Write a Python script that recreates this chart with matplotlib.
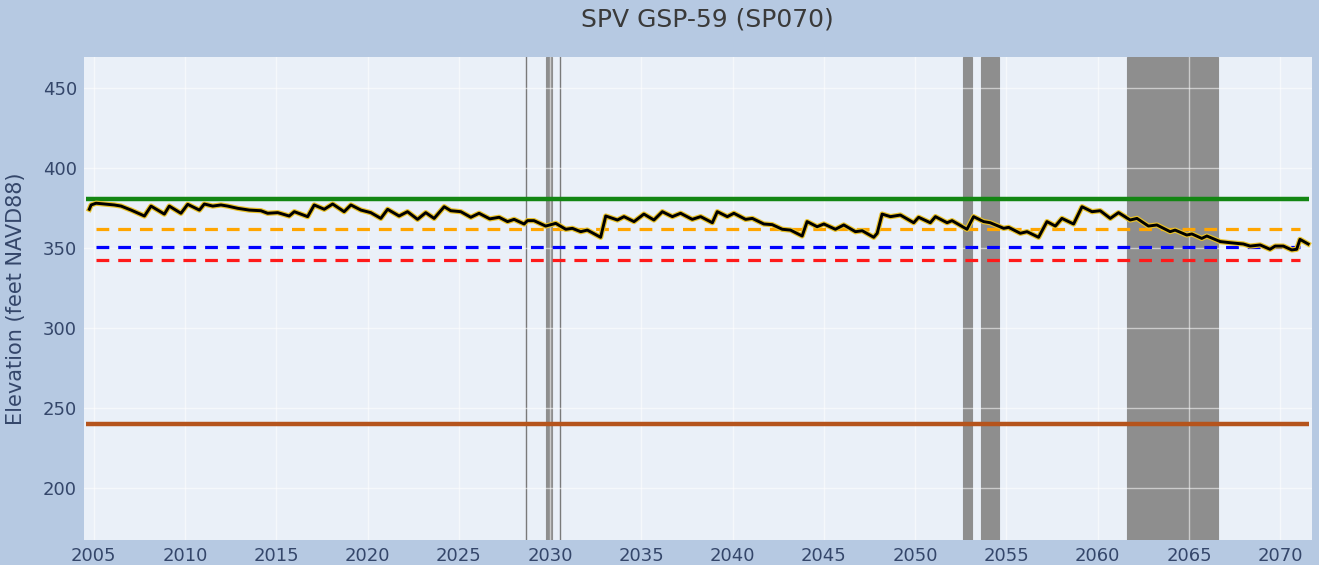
import matplotlib
matplotlib.use("Agg")
import matplotlib.pyplot as plt

# simulated groundwater elevation (decimal year, feet NAVD88)
years = [
    2004.76, 2004.86, 2005.13, 2006.13, 2006.50, 2007.05, 2007.78, 2008.14, 2008.87, 2009.14,
    2009.78, 2010.15, 2010.79, 2011.06, 2011.52, 2011.97, 2012.34, 2012.89, 2013.52, 2014.16,
    2014.53, 2015.08, 2015.71, 2015.99, 2016.72, 2017.08, 2017.63, 2018.09, 2018.72, 2019.09,
    2019.64, 2020.18, 2020.73, 2021.10, 2021.73, 2022.19, 2022.74, 2023.19, 2023.65, 2024.20,
    2024.56, 2025.11, 2025.66, 2026.11, 2026.70, 2027.21, 2027.67, 2028.03, 2028.58, 2028.76,
    2029.12, 2029.76, 2030.31, 2030.86, 2031.22, 2031.68, 2032.04, 2032.77, 2033.05, 2033.69,
    2034.05, 2034.60, 2035.14, 2035.69, 2036.15, 2036.70, 2037.15, 2037.79, 2038.25, 2038.89,
    2039.16, 2039.71, 2040.07, 2040.71, 2041.08, 2041.71, 2042.17, 2042.72, 2043.17, 2043.81,
    2044.08, 2044.63, 2045.00, 2045.63, 2046.09, 2046.73, 2047.10, 2047.73, 2047.92, 2048.19,
    2048.65, 2049.19, 2049.92, 2050.19, 2050.83, 2051.11, 2051.75, 2052.02, 2052.84, 2053.20,
    2053.75, 2054.11, 2054.85, 2055.12, 2055.76, 2056.13, 2056.76, 2057.22, 2057.68, 2058.04,
    2058.68, 2059.14, 2059.69, 2060.14, 2060.69, 2061.14, 2061.78, 2062.15, 2062.78, 2063.24,
    2063.97, 2064.24, 2064.88, 2065.16, 2065.70, 2065.98, 2066.71, 2067.26, 2067.98, 2068.35,
    2068.90, 2069.44, 2069.72, 2070.17, 2070.63, 2070.90, 2071.08, 2071.53,
]
elevation = [
    374.2, 376.9, 378.0, 376.9, 376.2, 373.7, 370.0, 376.2, 371.2, 376.2,
    371.7, 377.3, 373.7, 377.5, 376.2, 376.9, 376.2, 374.8, 373.7, 373.3,
    371.7, 372.1, 370.0, 372.7, 369.6, 376.9, 374.2, 377.5, 372.7, 376.9,
    373.7, 372.1, 368.5, 374.2, 370.0, 372.7, 367.9, 372.1, 368.5, 375.8,
    373.3, 372.7, 369.2, 371.7, 368.2, 369.2, 366.5, 367.9, 365.0, 367.1,
    367.1, 363.7, 365.4, 361.7, 362.3, 360.2, 361.2, 356.7, 370.0, 367.5,
    369.6, 366.5, 371.2, 367.5, 372.7, 369.6, 371.7, 367.9, 369.6, 365.8,
    372.7, 369.6, 371.7, 367.9, 368.5, 365.0, 364.6, 361.7, 361.2, 357.5,
    366.5, 363.3, 365.0, 361.7, 364.4, 360.2, 360.8, 356.7, 359.2, 371.2,
    369.6, 370.6, 365.8, 369.2, 365.8, 369.6, 365.8, 367.1, 361.7, 369.6,
    366.5, 365.8, 362.3, 362.9, 359.2, 360.2, 356.7, 366.5, 363.7, 368.5,
    365.0, 375.8, 372.7, 373.3, 368.5, 372.1, 367.5, 368.5, 363.7, 364.4,
    360.2, 361.2, 358.1, 358.8, 356.0, 357.5, 354.0, 353.3, 352.5, 351.2,
    351.9, 349.2, 351.2, 351.2, 348.8, 349.2, 355.4, 352.5,
]

# reference levels
max_level = 380.6          # green
threshold_1 = 361.9        # orange dashed
threshold_2 = 350.6        # blue dashed
threshold_3 = 342.5        # red dashed
bottom_level = 240.0       # brown

# shaded periods (start, end)
thin_marks = [2028.67, 2030.53]
shaded = [(2029.77, 2030.09), (2052.64, 2053.13), (2053.63, 2054.61), (2061.62, 2066.60)]

x_ticks = list(range(2005, 2071, 5))
y_ticks = [200, 250, 300, 350, 400, 450]

fig = plt.figure(figsize=(13.19, 5.65), dpi=100, facecolor="#b6c9e2")
ax = fig.add_axes([0.0637, 0.0442, 0.931, 0.855])
ax.set_facecolor("#eaf0f8")

for x0, x1 in shaded:
    ax.axvspan(x0, x1, color="#8e8e8e", lw=0.8, zorder=1)
for x in thin_marks:
    ax.axvline(x, color="#7a7a7a", lw=1.0, zorder=1)

ax.set_axisbelow(False)
ax.grid(True, color="white", lw=1.0, alpha=0.55, zorder=1.5)

ax.hlines(max_level, 2004.6, 2071.6, color="#138613", lw=3.2, zorder=3)
ax.hlines(bottom_level, 2004.6, 2071.6, color="#b5541c", lw=3.2, zorder=3)
for lvl, col in [(threshold_1, "#ffa500"), (threshold_2, "#0000ff"), (threshold_3, "#ff1a1a")]:
    ax.hlines(lvl, 2005.1, 2071.1, color=col, lw=2.3, linestyles=(0, (4.0, 2.8)), zorder=3)

ax.plot(years, elevation, color="#e9c22a", lw=3.8, zorder=4, solid_joinstyle="round")
ax.plot(years, elevation, color="black", lw=2.1, zorder=5, solid_joinstyle="round")

ax.set_xlim(2004.47, 2071.74)
ax.set_ylim(167.5, 469.4)
ax.set_xticks(x_ticks)
ax.set_yticks(y_ticks)
ax.tick_params(length=0, labelsize=13, labelcolor="#34466a", pad=5)
for s in ax.spines.values():
    s.set_visible(False)

ax.set_ylabel("Elevation (feet NAVD88)", fontsize=15, color="#34466a", labelpad=12)
fig.text(707 / 1319, 1 - 20 / 565, "SPV GSP-59 (SP070)", ha="center", va="center",
         fontsize=18, color="#3a3a3a")

fig.savefig("out.png", dpi=100, facecolor=fig.get_facecolor())
